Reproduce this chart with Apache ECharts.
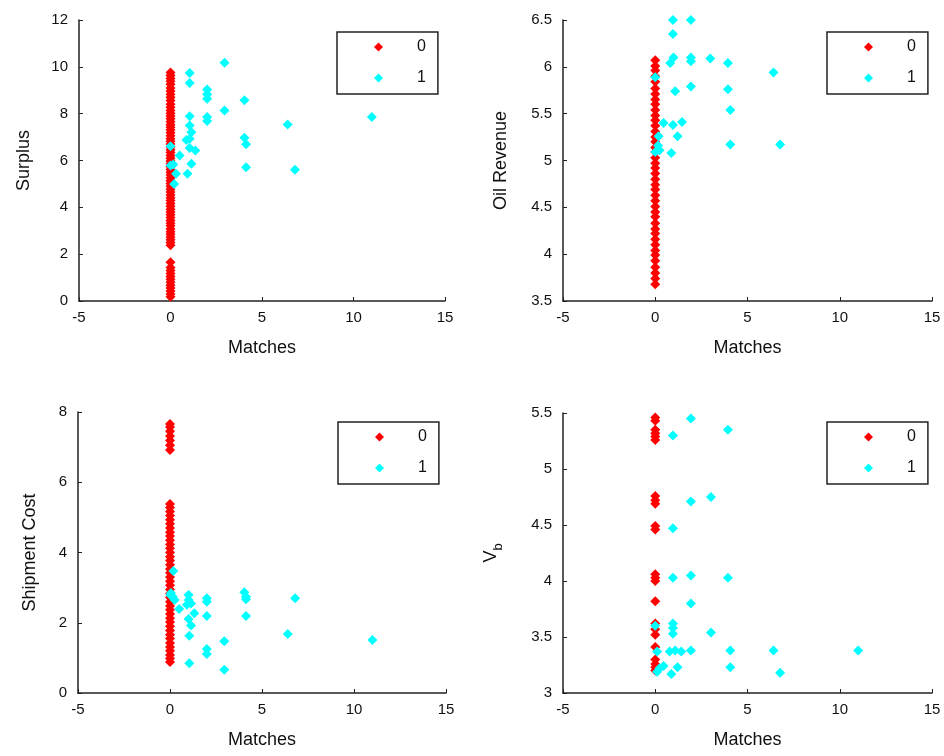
<!DOCTYPE html>
<html>
<head>
<meta charset="utf-8">
<script src="https://cdn.jsdelivr.net/npm/echarts@6/dist/echarts.min.js"></script>
<style>html,body{margin:0;padding:0;background:#fff;}#c{width:944px;height:756px;}</style>
</head>
<body>
<div id="c"></div>
<script>
// ---- data ----
const groupNames = ['0', '1'];
const xTickRange = [-5, 15, 5];

// class 0 (red): all at Matches = 0, values of the y variable
const surplus0 = [0.18,0.3,0.43,0.55,0.67,0.8,0.93,1.05,1.17,1.3,1.43,1.66,
  2.38,2.5,2.62,2.73,2.85,2.96,3.08,3.21,3.32,3.44,3.57,3.68,3.8,3.92,4.05,4.16,4.29,4.41,4.53,4.66,4.77,4.9,5.02,5.14,5.25,5.38,5.5,5.62,5.73,5.86,5.98,6.1,6.21,6.34,6.46,6.58,6.7,6.82,6.93,7.06,7.18,7.3,7.42,7.53,7.66,7.78,7.9,8.02,8.14,8.27,8.4,8.56,8.7,8.83,8.97,9.1,9.26,9.38,9.5,9.63,9.76];
const oil0 = [3.68,3.74,3.8,3.86,3.93,3.99,4.04,4.1,4.16,4.22,4.27,4.33,4.4,4.45,4.51,4.57,4.63,4.69,4.74,4.8,4.86,4.92,4.97,5.03,5.09,5.14,5.2,5.25,5.31,5.37,5.43,5.48,5.54,5.6,5.65,5.71,5.77,5.84,5.9,5.96,6.01,6.07];
const ship0 = [0.88,0.98,1.08,1.2,1.31,1.42,1.55,1.66,1.78,1.9,2.02,2.13,2.25,2.37,2.48,2.6,2.72,2.83,2.95,3.07,3.18,3.3,3.42,3.53,3.65,3.77,3.88,4.0,4.12,4.23,4.35,4.47,4.58,4.7,4.82,4.93,5.05,5.17,5.28,5.38,
  6.92,7.05,7.19,7.32,7.45,7.57,7.66];
const vb0 = [5.46,5.43,5.35,5.32,5.29,5.26,4.76,4.72,4.69,4.49,4.46,4.06,4.03,4.0,3.82,3.62,3.57,3.52,3.41,3.3,3.26,3.23,3.2];

// class 1 (cyan): [Matches, value]
const surplus1 = [[1.05,9.74],[1.05,9.31],[2.95,10.17],[2.0,9.03],[2.0,8.83],[2.0,8.64],[4.04,8.57],[2.95,8.14],[1.05,7.89],[2.0,7.86],[2.0,7.69],[6.4,7.54],[11.0,7.86],[1.05,7.5],[1.14,7.21],[0.87,6.88],[1.05,6.93],[4.04,6.97],[4.13,6.69],[0,6.61],[1.05,6.53],[1.36,6.43],[0.5,6.21],[0,5.79],[0.15,5.83],[1.14,5.86],[4.13,5.71],[6.8,5.6],[0.3,5.43],[0.93,5.43],[0.2,5.0]];
const oil1 = [[0.96,6.5],[1.93,6.5],[0.96,6.35],[0.99,6.1],[0.81,6.04],[1.93,6.1],[1.93,6.06],[2.98,6.09],[3.94,6.04],[6.41,5.94],[0,5.89],[1.08,5.74],[1.93,5.79],[3.94,5.76],[4.07,5.54],[0.45,5.4],[0.96,5.38],[1.45,5.41],[0.18,5.26],[1.21,5.26],[0.15,5.16],[0,5.09],[0.23,5.11],[4.07,5.17],[6.77,5.17],[0.87,5.08]];
const ship1 = [[0.18,3.47],[0.02,2.79],[0.15,2.74],[0.25,2.65],[0.05,2.85],[1.01,2.79],[1.01,2.65],[0.92,2.51],[1.14,2.55],[1.32,2.27],[1.01,2.11],[1.14,1.92],[0.5,2.39],[2.0,2.7],[2.0,2.6],[2.0,2.19],[4.04,2.87],[4.13,2.74],[4.13,2.67],[6.8,2.7],[4.13,2.19],[1.05,1.63],[6.4,1.68],[11.0,1.51],[2.0,1.25],[2.0,1.11],[2.95,1.47],[1.05,0.85],[2.95,0.66]];
const vb1 = [[1.93,5.45],[3.94,5.35],[0.96,5.3],[1.93,4.71],[3.02,4.75],[0.96,4.47],[0.96,4.03],[1.93,4.05],[3.94,4.03],[1.93,3.8],[0,3.6],[0.96,3.62],[0.96,3.58],[0.96,3.53],[3.02,3.54],[0.1,3.37],[0.78,3.37],[1.08,3.38],[1.41,3.37],[1.93,3.38],[4.07,3.38],[6.41,3.38],[11.0,3.38],[0.23,3.22],[0.45,3.24],[0.1,3.19],[1.21,3.23],[0.87,3.17],[4.07,3.23],[6.77,3.18]];

// y axes: [min, max, interval]
const yRanges = [[0,12,2],[3.5,6.5,0.5],[0,8,2],[3,5.5,0.5]];
const yNames = ['Surplus', 'Oil Revenue', 'Shipment Cost', 'V{sub|b}'];

// ---- layout ----
const grids = [
  {left:79, top:20, width:366, height:281},
  {left:563, top:20, width:369, height:281},
  {left:78, top:412, width:368, height:281},
  {left:563, top:413, width:369, height:280}
];
const yNameGaps = [46, 53, 39, 58];
const legendPos = [[337,32],[827,32],[338,422],[827,422]];

const FONT = 'Liberation Sans';
const AX = '#222';
const red0 = [surplus0, oil0, ship0, vb0];
const cyan1 = [surplus1, oil1, ship1, vb1];

const option = {
  backgroundColor: '#fff',
  animation: false,
  textStyle: {fontFamily: FONT},
  grid: grids.map(g => Object.assign({containLabel:false}, g)),
  xAxis: grids.map((g, i) => ({
    gridIndex: i, type: 'value',
    min: xTickRange[0], max: xTickRange[1], interval: xTickRange[2],
    name: 'Matches', nameLocation: 'middle', nameGap: 38,
    nameTextStyle: {fontSize: 18, color: '#111', fontFamily: FONT},
    axisLine: {show: true, onZero: false, lineStyle: {color: AX, width: 1.5}},
    axisTick: {show: true, inside: true, length: 4, lineStyle: {color: AX}},
    axisLabel: {fontSize: 15, color: '#111', margin: 9, fontFamily: FONT},
    splitLine: {show: false}
  })),
  yAxis: grids.map((g, i) => ({
    gridIndex: i, type: 'value',
    min: yRanges[i][0], max: yRanges[i][1], interval: yRanges[i][2],
    name: yNames[i], nameLocation: 'middle', nameGap: yNameGaps[i], nameRotate: 90,
    nameTextStyle: {fontSize: 18, color: '#111', fontFamily: FONT,
      rich: {sub: {fontSize: 13, verticalAlign: 'bottom', padding: [14,0,0,0], fontFamily: FONT, color:'#111'}}},
    axisLine: {show: true, onZero: false, lineStyle: {color: AX, width: 1.5}},
    axisTick: {show: true, inside: true, length: 4, lineStyle: {color: AX}},
    axisLabel: {fontSize: 15, color: '#111', margin: 11, fontFamily: FONT},
    splitLine: {show: false}
  })),
  legend: legendPos.map(p => ({
    data: groupNames, orient: 'vertical', left: p[0], top: p[1],
    icon: 'diamond', itemWidth: 9, itemHeight: 9, itemGap: 15,
    padding: [7, 12, 8, 37], borderColor: '#222', borderWidth: 1.5, backgroundColor: '#fff',
    selectedMode: false,
    textStyle: {fontSize: 16, lineHeight: 16, color: '#111', fontFamily: FONT, padding: [0,0,0,29]}
  })),
  series: []
};

for (let i = 0; i < 4; i++) {
  option.series.push({
    name: groupNames[0], type: 'scatter', xAxisIndex: i, yAxisIndex: i,
    symbol: 'diamond', symbolSize: 10, itemStyle: {color: '#ff0000', opacity: 1},
    data: red0[i].map(v => [0, v])
  });
}
for (let i = 0; i < 4; i++) {
  option.series.push({
    name: groupNames[1], type: 'scatter', xAxisIndex: i, yAxisIndex: i,
    symbol: 'diamond', symbolSize: 10, itemStyle: {color: '#00ffff', opacity: 1},
    data: cyan1[i]
  });
}

const chart = echarts.init(document.getElementById('c'), null, {renderer: 'canvas'});
chart.setOption(option);
</script>
</body>
</html>
